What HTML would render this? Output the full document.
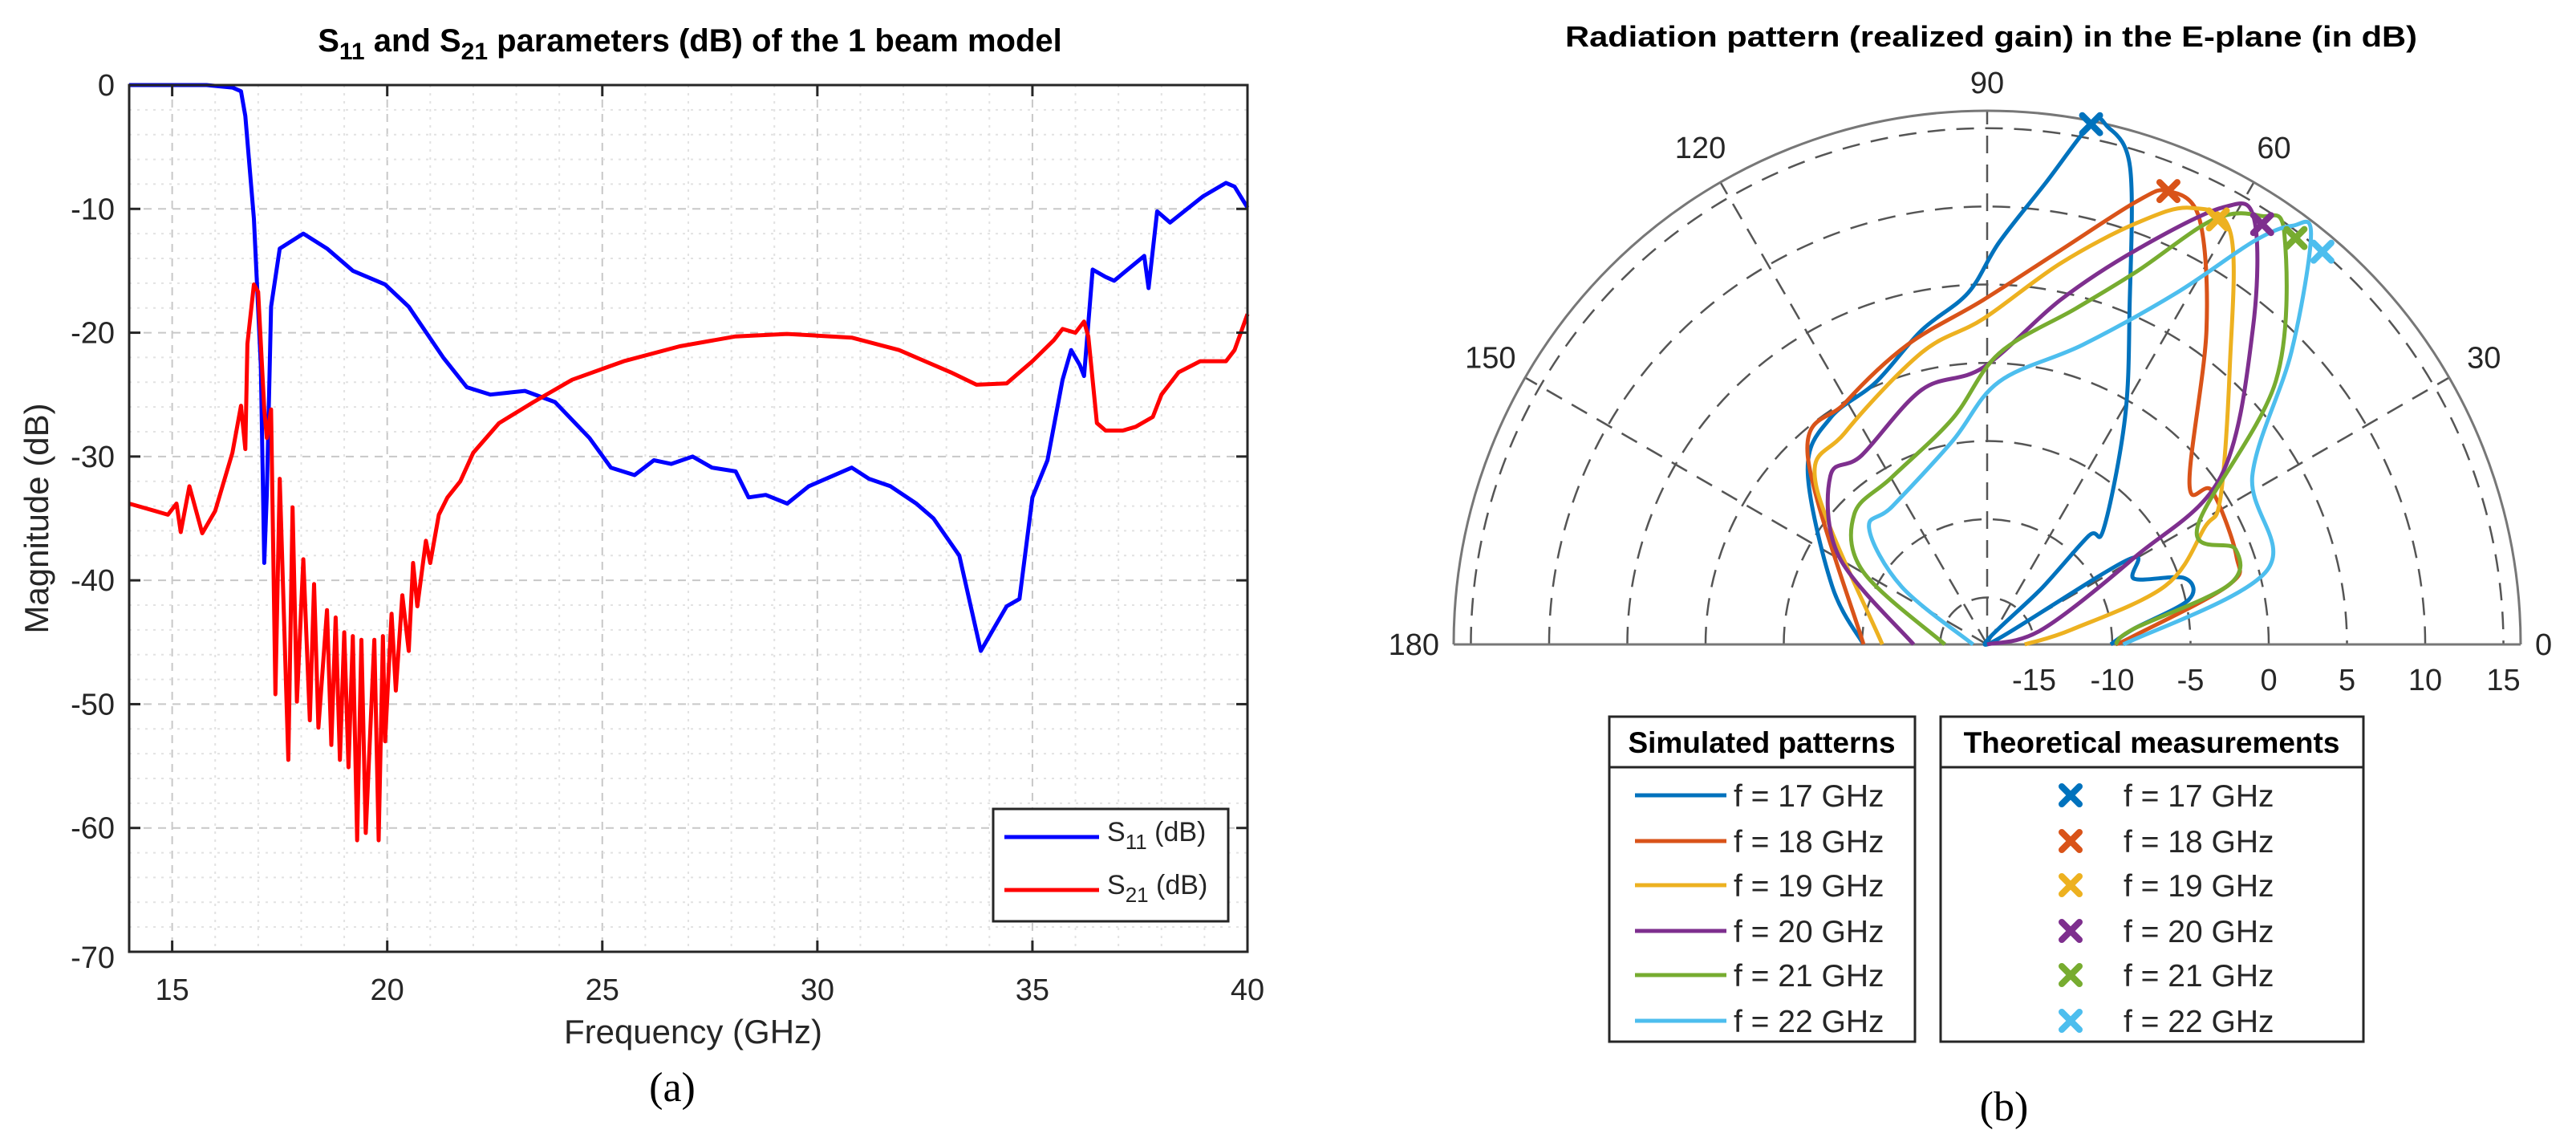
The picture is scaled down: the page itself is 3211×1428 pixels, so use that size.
<!DOCTYPE html>
<html><head><meta charset="utf-8"><style>
html,body{margin:0;padding:0;background:#fff}
svg{display:block}
text{font-family:"Liberation Sans",Arial,sans-serif}
</style></head><body>
<svg id="fig" width="3211" height="1428" viewBox="0 0 3211 1428" xmlns="http://www.w3.org/2000/svg">
<g id="left"></g>
<g id="right"></g>
</svg>
<script>
// ---------- Left chart data ----------
const s11Freq=[14,15.8,16.4,16.6,16.7,16.9,17.06,17.14,17.2,17.3,17.5,18.05,18.6,19.2,19.95,20.5,21.3,21.85,22.4,23.2,23.9,24.7,25.2,25.75,26.2,26.6,27.1,27.55,28.1,28.4,28.8,29.3,29.8,30.8,31.2,31.7,32.3,32.7,33.3,33.8,34.1,34.4,34.7,35,35.35,35.7,35.9,36.1,36.2,36.4,36.7,36.9,37.6,37.7,37.9,38.2,38.96,39.5,39.7,40];
const s11dB=[0,0,-0.2,-0.5,-2.5,-10.8,-22.6,-38.6,-33,-17.9,-13.2,-12,-13.2,-15,-16.1,-17.9,-22,-24.4,-25,-24.7,-25.6,-28.5,-30.9,-31.5,-30.3,-30.6,-30,-30.9,-31.2,-33.3,-33.1,-33.8,-32.4,-30.9,-31.8,-32.4,-33.8,-35,-38,-45.7,-43.9,-42.1,-41.5,-33.3,-30.3,-23.8,-21.4,-22.6,-23.5,-14.9,-15.5,-15.8,-13.8,-16.4,-10.2,-11.1,-9,-7.9,-8.2,-9.9];
const s21Freq=[14,14.6,14.9,15.1,15.2,15.4,15.7,16,16.4,16.6,16.7,16.75,16.9,17,17.14,17.2,17.3,17.4,17.5,17.7,17.8,17.9,18.05,18.2,18.3,18.4,18.6,18.7,18.8,18.9,19,19.1,19.2,19.3,19.4,19.5,19.7,19.8,19.9,19.95,20.1,20.2,20.35,20.5,20.6,20.7,20.9,21,21.2,21.4,21.7,22,22.6,23.4,24.3,25.5,26.8,28.1,29.3,30.8,31.9,33.1,33.7,34.4,35,35.5,35.7,36,36.2,36.3,36.5,36.7,37.1,37.4,37.8,38,38.4,38.9,39.5,39.7,40];
const s21dB=[-33.8,-34.4,-34.7,-33.8,-36.1,-32.4,-36.2,-34.4,-29.7,-25.9,-29.4,-20.9,-16.1,-16.7,-26.2,-28.5,-26.2,-49.2,-31.8,-54.5,-34.1,-49.8,-38.3,-51.3,-40.3,-51.9,-42.4,-53.3,-43,-54.5,-44.2,-55.1,-44.5,-61,-44.8,-60.4,-44.8,-61,-44.5,-53,-42.7,-48.9,-41.2,-45.7,-38.6,-42.1,-36.8,-38.6,-34.7,-33.3,-32,-29.7,-27.3,-25.6,-23.8,-22.3,-21.1,-20.3,-20.1,-20.4,-21.4,-23.2,-24.2,-24.1,-22.3,-20.6,-19.7,-20,-19.1,-20.3,-27.3,-27.9,-27.9,-27.6,-26.8,-25,-23.2,-22.3,-22.3,-21.4,-18.5];
const xTicks=[15,20,25,30,35,40];
const yTicks=[0,-10,-20,-30,-40,-50,-60,-70];

// ---------- Right chart data ----------
const angTicks=[0,30,60,90,120,150,180];
const rTicks=[-15,-10,-5,0,5,10,15];
const freqLabels=["f = 17 GHz","f = 18 GHz","f = 19 GHz","f = 20 GHz","f = 21 GHz","f = 22 GHz"];
const pat17Ang=[180,159.3,135.8,124.7,113,101.8,93.1,88.3,82.8,78.7,77,73.3,67,58.6,44.8,46.9,45.8,45,31,24,18.6,12.5,6,0];
const pat17dB=[-10.1,-7.4,-2.0,-0.4,0.2,2.5,4.5,7.7,11.7,15.9,16,13.8,5.3,-1.1,-7.5,-8.5,-12.9,-18.3,-7.5,-7.7,-4.7,-4.8,-8.6,-10.1];
const pat18Ang=[180,133.4,120.5,105,90.7,79.5,71.3,68.2,63.5,55.1,38.4,34.3,19.5,13.8,3.3,0];
const pat18dB=[-10.1,-1.3,-0.1,1.8,4.0,7.6,11.9,13.2,12.4,6.5,-1.5,-0.6,-1.1,-2.1,-8.6,-9.8];
const pat19Ang=[180,136.9,123.9,102.7,90.7,79.1,70.4,64.9,59.3,48.9,32.1,28.3,18.2,10,0];
const pat19dB=[-11.3,-3.0,-1.7,1.1,2.8,6.8,10.6,12.8,12.5,5.6,-0.4,-2.2,-6.0,-12.5,-15.6];
const pat20Ang=[180,149.4,133,123.6,104.4,90.8,78,69.2,61.7,57.9,49.8,35.7,30.6,15,0];
const pat20dB=[-13.3,-7.0,-3.3,-3.5,-1.2,-0.3,4.5,9.0,13.7,14.1,8.3,0.4,-7.0,-14.4,-18.3];
const pat21Ang=[180,149.6,135.5,119.6,98.7,87.7,75.2,68.1,61.9,57.4,54.1,42.4,29.2,21,13.8,6,0];
const pat21dB=[-15.3,-8.8,-6.1,-5.7,-3.4,0.6,4.2,7.7,12.8,14.5,14.4,7.0,-2.6,-1.0,-2.1,-8.6,-9.8];
const pat22Ang=[180,146,135.4,124.5,99.6,87.4,72.3,61.7,56.5,53.9,51.7,43.9,32.5,14.8,0];
const pat22dB=[-17.1,-11.4,-7.4,-7.3,-4.8,-1.2,2.1,7.5,12.9,15.1,15.4,9.0,2.1,0.5,-9.3];
const markAng=[78.7,68.2,61.5,56.8,52.8,49.5];
const markdB=[15.9,13.2,12.9,14.1,14.6,15.0];

const NS="http://www.w3.org/2000/svg";
function mk(parent,tag,attrs,txt){const e=document.createElementNS(NS,tag);for(const k in attrs)e.setAttribute(k,attrs[k]);if(txt!==undefined)e.textContent=txt;parent.appendChild(e);return e;}

// ===== Left chart =====
const L=document.getElementById('left');
const X0=161,X1=1555,Y0=106,Y1=1186;
const fx=f=>X0+(f-14)/(40-14)*(X1-X0);
const fy=v=>Y0+(0-v)/70*(Y1-Y0);
const gridG=mk(L,'g',{});


for(let f=15;f<40;f++){const maj=f%5===0;mk(gridG,'line',{x1:fx(f),x2:fx(f),y1:Y0,y2:Y1,stroke:maj?'#c8c8c8':'#e2e2e2','stroke-width':2,'stroke-dasharray':maj?'10,8':'3,7'});}
for(let v=-68;v<0;v+=2){const maj=v%10===0;mk(gridG,'line',{x1:X0,x2:X1,y1:fy(v),y2:fy(v),stroke:maj?'#c8c8c8':'#e2e2e2','stroke-width':2,'stroke-dasharray':maj?'10,8':'3,7'});}
function pathFrom(xs,ys,X,Y){return xs.map((v,i)=>(i?'L':'M')+X(v).toFixed(1)+','+Y(ys[i]).toFixed(1)).join(' ');}
const p11=mk(L,'path',{d:pathFrom(s11Freq,s11dB,fx,fy),fill:'none',stroke:'#0000ff','stroke-width':5,'stroke-linejoin':'round'});


const p21=mk(L,'path',{d:pathFrom(s21Freq,s21dB,fx,fy),fill:'none',stroke:'#ff0000','stroke-width':5,'stroke-linejoin':'round'});


const ax=mk(L,'rect',{x:X0,y:Y0,width:X1-X0,height:Y1-Y0,fill:'none',stroke:'#262626','stroke-width':3});


xTicks.forEach(t=>{
  mk(L,'line',{x1:fx(t),x2:fx(t),y1:Y1,y2:Y1-14,stroke:'#262626','stroke-width':3});
  mk(L,'line',{x1:fx(t),x2:fx(t),y1:Y0,y2:Y0+14,stroke:'#262626','stroke-width':3});
  const tl=mk(L,'text',{x:fx(t),y:1246,'text-anchor':'middle','font-size':38,fill:'#262626'},String(t));
  
  
});
yTicks.forEach(t=>{
  mk(L,'line',{x1:X0,x2:X0+14,y1:fy(t),y2:fy(t),stroke:'#262626','stroke-width':3});
  mk(L,'line',{x1:X1,x2:X1-14,y1:fy(t),y2:fy(t),stroke:'#262626','stroke-width':3});
  const tl=mk(L,'text',{x:143,y:fy(t)+(t===-70?20:13),'text-anchor':'end','font-size':38,fill:'#262626'},String(t));
  
  
});
let t=mk(L,'text',{x:864,y:1300,'text-anchor':'middle','font-size':42,fill:'#262626'},'Frequency (GHz)');

t=mk(L,'text',{x:0,y:0,'text-anchor':'middle','font-size':42,fill:'#262626',transform:'translate(60,646) rotate(-90)'},'Magnitude (dB)');

t=mk(L,'text',{x:860,y:64,'text-anchor':'middle','font-size':40,'font-weight':'bold',fill:'#000'});

t.innerHTML='S<tspan font-size="30" dy="10">11</tspan><tspan dy="-10"> and S</tspan><tspan font-size="30" dy="10">21</tspan><tspan dy="-10"> parameters (dB) of the 1 beam model</tspan>';
t=mk(L,'text',{x:838,y:1372,'text-anchor':'middle','font-size':52,fill:'#000',style:'font-family:"Liberation Serif",serif'},'(a)');

// legend
const lg=mk(L,'g',{});


mk(lg,'rect',{x:1238,y:1008,width:293,height:140,fill:'#fff',stroke:'#262626','stroke-width':3});
mk(lg,'line',{x1:1252,x2:1370,y1:1043,y2:1043,stroke:'#0000ff','stroke-width':5});
mk(lg,'line',{x1:1252,x2:1370,y1:1109,y2:1109,stroke:'#ff0000','stroke-width':5});
t=mk(lg,'text',{x:1380,y:1048,'font-size':34,fill:'#262626'});t.innerHTML='S<tspan font-size="26" dy="10">11</tspan><tspan dy="-10"> (dB)</tspan>';

t=mk(lg,'text',{x:1380,y:1114,'font-size':34,fill:'#262626'});t.innerHTML='S<tspan font-size="26" dy="10">21</tspan><tspan dy="-10"> (dB)</tspan>';


// ===== Right chart =====
const R=document.getElementById('right');
const CX=2477,CY=803,RMIN=-18,RMAX=16.1,ROUT=665;
const rr=v=>Math.max(0,(v-RMIN)/(RMAX-RMIN)*ROUT);
const px=(a,v)=>CX+rr(v)*Math.cos(a*Math.PI/180);
const py=(a,v)=>CY-rr(v)*Math.sin(a*Math.PI/180);
const pg=mk(R,'g',{});


rTicks.forEach(v=>{const r=rr(v);mk(pg,'path',{d:`M${CX-r},${CY} A${r},${r} 0 0 1 ${CX+r},${CY}`,fill:'none',stroke:'#555','stroke-width':2.5,'stroke-dasharray':'22,14'});});
[30,60,90,120,150].forEach(a=>{mk(pg,'line',{x1:CX,y1:CY,x2:px(a,RMAX),y2:py(a,RMAX),stroke:'#555','stroke-width':2.5,'stroke-dasharray':'22,14'});});
mk(pg,'path',{d:`M${CX-ROUT},${CY} A${ROUT},${ROUT} 0 0 1 ${CX+ROUT},${CY}`,fill:'none',stroke:'#777','stroke-width':3});
mk(pg,'line',{x1:CX-ROUT,x2:CX+ROUT,y1:CY,y2:CY,stroke:'#777','stroke-width':3});
angTicks.forEach(a=>{
  const lr=ROUT+(a===90?35:50);let x=CX+lr*Math.cos(a*Math.PI/180),y=CY-lr*Math.sin(a*Math.PI/180)+13;
  let anchor='middle';if(a===0){anchor='start';x=CX+ROUT+18;}if(a===180){anchor='end';x=CX-ROUT-18;}
  const tl=mk(R,'text',{x:x,y:y,'text-anchor':anchor,'font-size':38,fill:'#262626'},String(a));
  
  
});
rTicks.forEach(v=>{
  const tl=mk(R,'text',{x:CX+rr(v),y:860,'text-anchor':'middle','font-size':38,fill:'#262626'},String(v));
  
  
});
const colors=['#0072BD','#D95319','#EDB120','#7E2F8E','#77AC30','#4DBEEE'];
const pats=[[pat17Ang,pat17dB],[pat18Ang,pat18dB],[pat19Ang,pat19dB],[pat20Ang,pat20dB],[pat21Ang,pat21dB],[pat22Ang,pat22dB]];
function smooth(pts){let d='M'+pts[0][0].toFixed(1)+','+pts[0][1].toFixed(1);
  for(let i=0;i<pts.length-1;i++){const p0=pts[Math.max(0,i-1)],p1=pts[i],p2=pts[i+1],p3=pts[Math.min(pts.length-1,i+2)];
    const c1x=p1[0]+(p2[0]-p0[0])/6,c1y=p1[1]+(p2[1]-p0[1])/6,c2x=p2[0]-(p3[0]-p1[0])/6,c2y=p2[1]-(p3[1]-p1[1])/6;
    d+=` C${c1x.toFixed(1)},${c1y.toFixed(1)} ${c2x.toFixed(1)},${c2y.toFixed(1)} ${p2[0].toFixed(1)},${p2[1].toFixed(1)}`;}
  return d;}
pats.forEach((p,i)=>{
  const pts=p[0].map((a,j)=>[px(a,p[1][j]),py(a,p[1][j])]);
  const e=mk(R,'path',{d:smooth(pts),fill:'none',stroke:colors[i],'stroke-width':5,'stroke-linejoin':'round'});
  
  
});
function cross(g,x,y,c){mk(g,'path',{d:`M${x-11},${y-11}L${x+11},${y+11}M${x-11},${y+11}L${x+11},${y-11}`,stroke:c,'stroke-width':8,'stroke-linecap':'round'});}
markAng.forEach((a,i)=>{
  const g=mk(R,'g',{});
  
  
  cross(g,px(a,markdB[i]),py(a,markdB[i]),colors[i]);
});
t=mk(R,'text',{x:2482,y:58,'text-anchor':'middle','font-size':36,'font-weight':'bold',fill:'#000',textLength:1062,lengthAdjust:'spacingAndGlyphs'},'Radiation pattern (realized gain) in the E-plane (in dB)');

// legends
const lg1=mk(R,'g',{});


mk(lg1,'rect',{x:2006,y:893,width:381,height:405,fill:'#fff',stroke:'#262626','stroke-width':3});
mk(lg1,'line',{x1:2006,x2:2387,y1:956,y2:956,stroke:'#262626','stroke-width':3});
mk(lg1,'text',{x:2196,y:938,'text-anchor':'middle','font-size':37,'font-weight':'bold',fill:'#000'},'Simulated patterns');
const lg2=mk(R,'g',{});


mk(lg2,'rect',{x:2419,y:893,width:527,height:405,fill:'#fff',stroke:'#262626','stroke-width':3});
mk(lg2,'line',{x1:2419,x2:2946,y1:956,y2:956,stroke:'#262626','stroke-width':3});
mk(lg2,'text',{x:2682,y:938,'text-anchor':'middle','font-size':37,'font-weight':'bold',fill:'#000'},'Theoretical measurements');
const entryY=[991,1048,1103,1160,1215,1272];
freqLabels.forEach((lab,i)=>{
  const y=entryY[i];
  mk(lg1,'line',{x1:2038,x2:2152,y1:y,y2:y,stroke:colors[i],'stroke-width':5});
  const a=mk(lg1,'text',{x:2161,y:y+14,'font-size':39,fill:'#262626'},lab);
  
  
  cross(lg2,2581,y,colors[i]);
  const b=mk(lg2,'text',{x:2647,y:y+14,'font-size':39,fill:'#262626'},lab);
  
  
});
t=mk(R,'text',{x:2498,y:1396,'text-anchor':'middle','font-size':52,fill:'#000',style:'font-family:"Liberation Serif",serif'},'(b)');

</script>
</body></html>
